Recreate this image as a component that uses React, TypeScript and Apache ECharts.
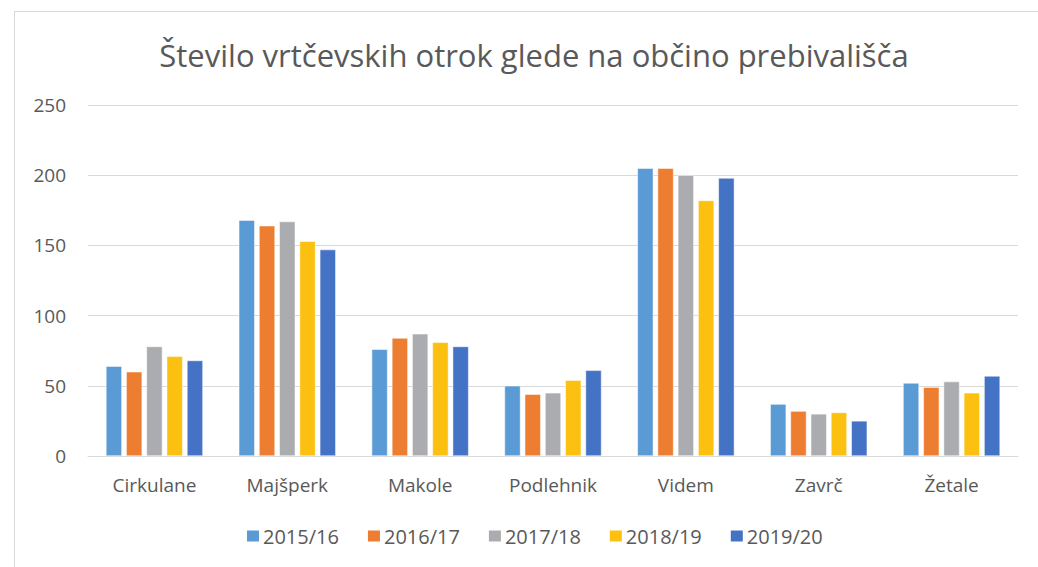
import React, { useEffect, useRef } from "react";
import * as echarts from "echarts";

const categories = ["Cirkulane", "Majšperk", "Makole", "Podlehnik", "Videm", "Zavrč", "Žetale"];
const seriesNames = ["2015/16", "2016/17", "2017/18", "2018/19", "2019/20"];
const s2015 = [64, 168, 76, 50, 205, 37, 52];
const s2016 = [60, 164, 84, 44, 205, 32, 49];
const s2017 = [78, 167, 87, 45, 200, 30, 53];
const s2018 = [71, 153, 81, 54, 182, 31, 45];
const s2019 = [68, 147, 78, 61, 198, 25, 57];
const colors = ["#5B9BD5", "#ED7D31", "#ABACAF", "#FCC010", "#4472C4"];
const title = "Število vrtčevskih otrok glede na občino prebivališča";

export default function App() {
  const ref = useRef<HTMLDivElement>(null);
  useEffect(() => {
    if (!ref.current) return;
    const chart = echarts.init(ref.current, null, { renderer: "svg" });
    const all = [s2015, s2016, s2017, s2018, s2019];
    const font = "'Open Sans', sans-serif";
    chart.setOption({
      animation: false,
      title: {
        text: title,
        left: 529,
        textAlign: "center",
        top: 34,
        textStyle: { fontFamily: font, fontSize: 31, fontWeight: "normal", color: "#595959" },
      },
      graphic: [
        { type: "line", shape: { x1: 14, y1: 11.5, x2: 1038, y2: 11.5 }, style: { stroke: "#D9D9D9", lineWidth: 1 } },
        { type: "line", shape: { x1: 14.5, y1: 11, x2: 14.5, y2: 567 }, style: { stroke: "#D9D9D9", lineWidth: 1 } },
      ],
      legend: {
        top: 526,
        left: 245,
        width: 750,
        padding: 0,
        itemWidth: 14,
        itemHeight: 13,
        itemGap: 27,
        icon: "rect",
        textStyle: { fontFamily: font, fontSize: 20, color: "#595959", padding: [0, 0, 0, -2] },
        data: seriesNames,
      },
      grid: { left: 88, right: 20, top: 105, bottom: 111, containLabel: false },
      xAxis: {
        type: "category",
        data: categories,
        axisLine: { lineStyle: { color: "#D9D9D9", width: 1 } },
        axisTick: { show: false },
        axisLabel: { fontFamily: font, fontSize: 19, color: "#595959", margin: 19 },
      },
      yAxis: {
        type: "value",
        min: 0,
        max: 250,
        interval: 50,
        axisLine: { show: false },
        axisTick: { show: false },
        splitLine: { lineStyle: { color: "#D9D9D9", width: 1 } },
        axisLabel: { fontFamily: font, fontSize: 19, color: "#595959", margin: 22 },
      },
      series: seriesNames.map((name, i) => ({
        name,
        type: "bar",
        data: all[i],
        barGap: "27%",
        barCategoryGap: "27%",
        itemStyle: { color: colors[i], borderColor: "#fff", borderWidth: 0.5 },
      })),
    });
    return () => chart.dispose();
  }, []);
  return <div ref={ref} style={{ position: "absolute", left: 0, top: 0, width: 1038, height: 567 }} />;
}
